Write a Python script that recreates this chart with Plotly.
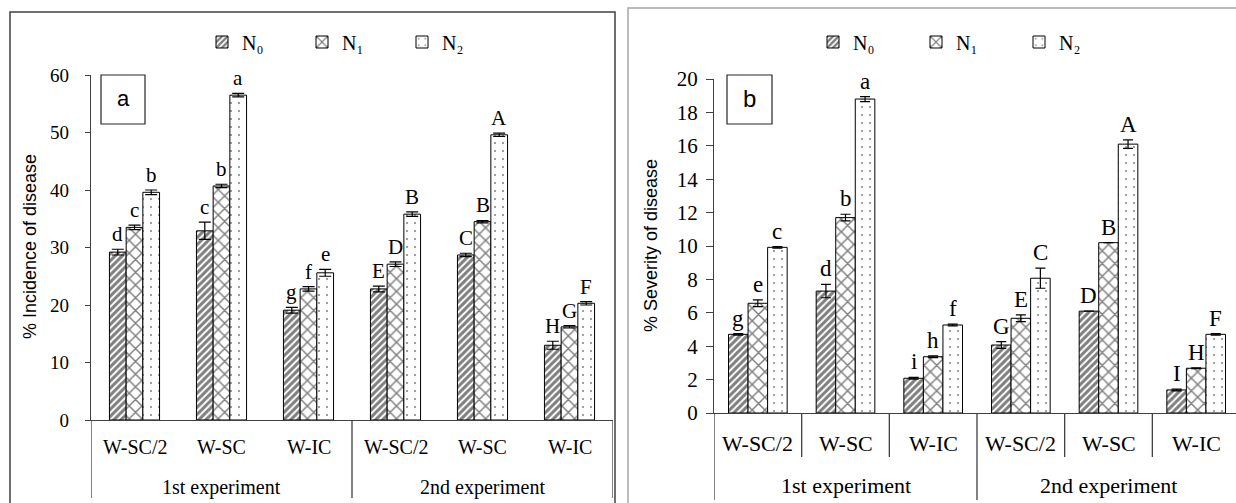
import plotly.graph_objects as go

# ---------------- data ----------------
categories = ["W-SC/2", "W-SC", "W-IC", "W-SC/2", "W-SC", "W-IC"]
experiments = ["1st experiment", "2nd experiment"]
series_names = ["N\u2080", "N\u2081", "N\u2082"]

# panel a : % incidence of disease
inc_N0 = [29.2, 32.9, 19.1, 22.8, 28.7, 13.0]
inc_N1 = [33.5, 40.7, 22.8, 27.1, 34.5, 16.2]
inc_N2 = [39.6, 56.5, 25.6, 35.8, 49.6, 20.3]
inc_err_N0 = [0.5, 1.5, 0.5, 0.5, 0.3, 0.7]
inc_err_N1 = [0.4, 0.3, 0.4, 0.4, 0.2, 0.2]
inc_err_N2 = [0.4, 0.3, 0.6, 0.4, 0.3, 0.3]
inc_let_N0 = ["d", "c", "g", "E", "C", "H"]
inc_let_N1 = ["c", "b", "f", "D", "B", "G"]
inc_let_N2 = ["b", "a", "e", "B", "A", "F"]

# panel b : % severity of disease
sev_N0 = [4.71, 7.3, 2.08, 4.07, 6.1, 1.38]
sev_N1 = [6.57, 11.7, 3.37, 5.67, 10.2, 2.68]
sev_N2 = [9.92, 18.8, 5.27, 8.07, 16.1, 4.71]
sev_err_N0 = [0.05, 0.4, 0.05, 0.2, 0.0, 0.05]
sev_err_N1 = [0.2, 0.2, 0.05, 0.2, 0.0, 0.03]
sev_err_N2 = [0.05, 0.15, 0.05, 0.6, 0.25, 0.05]
sev_let_N0 = ["g", "d", "i", "G", "D", "I"]
sev_let_N1 = ["e", "b", "h", "E", "B", "H"]
sev_let_N2 = ["c", "a", "f", "C", "A", "F"]

# ---------------- styling helpers ----------------
W, H = 1236, 503
def px(x):
    return x / W
def py(y):
    return 1 - y / H

SERIF = "Liberation Serif"
SANS = "Liberation Sans"
AXC = "#404040"

patterns = [
    dict(shape="/", fgcolor="black", bgcolor="white", size=5, solidity=0.6),
    dict(shape="x", fgcolor="black", bgcolor="white", size=9, solidity=0.3),
    dict(shape=".", fgcolor="black", bgcolor="white", size=8, solidity=0.05),
]

xpos = list(range(len(categories)))
fig = go.Figure()
annotations = []
shapes = []

def add_panel(values, errs, letters, xa, ya, legend, bw, font_let, capw):
    n = len(values)
    offs = [-1.5 * bw + k * bw for k in range(n)]
    for k in range(n):
        fig.add_trace(go.Bar(
            x=xpos, y=values[k], width=bw, offset=offs[k],
            name=series_names[k], legend=legend,
            xaxis=xa, yaxis=ya,
            marker=dict(color="white", line=dict(color="black", width=1),
                        pattern=patterns[k]),
            error_y=dict(type="data", array=errs[k], color="black",
                         thickness=1.2, width=capw),
            hoverinfo="skip",
        ))
        for i in xpos:
            annotations.append(dict(
                x=i + offs[k] + bw / 2, y=values[k][i] + errs[k][i],
                xref=xa.replace("axis", ""), yref=ya.replace("axis", ""),
                text=letters[k][i], showarrow=False, yanchor="bottom",
                xanchor="center", yshift=1,
                font=dict(family=SERIF, size=font_let, color="black"),
            ))

add_panel([inc_N0, inc_N1, inc_N2], [inc_err_N0, inc_err_N1, inc_err_N2],
          [inc_let_N0, inc_let_N1, inc_let_N2], "x", "y", "legend",
          0.192, 21, 6)
add_panel([sev_N0, sev_N1, sev_N2], [sev_err_N0, sev_err_N1, sev_err_N2],
          [sev_let_N0, sev_let_N1, sev_let_N2], "x2", "y2", "legend2",
          0.223, 23, 5)

# ---------- category / experiment labels & dividers ----------
def cat_labels(xref, y_cat, y_exp, fs_cat, fs_exp):
    for i, c in enumerate(categories):
        annotations.append(dict(x=i, y=py(y_cat), xref=xref, yref="paper",
                                text=c, showarrow=False, yanchor="middle",
                                xanchor="center",
                                font=dict(family=SERIF, size=fs_cat, color="black")))
    for j, e in enumerate(experiments):
        annotations.append(dict(x=1 + 3 * j, y=py(y_exp), xref=xref, yref="paper",
                                text=e, showarrow=False, yanchor="middle",
                                xanchor="center",
                                font=dict(family=SERIF, size=fs_exp, color="black")))

cat_labels("x", 447, 487, 20, 20)
cat_labels("x2", 443, 485, 22, 22)

for xv in [-0.5, 2.5, 5.5]:
    shapes.append(dict(type="line", xref="x", yref="paper", x0=xv, x1=xv,
                       y0=py(420), y1=py(498), line=dict(color=AXC, width=1.3)))
for xv in [-0.5, 2.5]:
    shapes.append(dict(type="line", xref="x2", yref="paper", x0=xv, x1=xv,
                       y0=py(413), y1=py(500), line=dict(color=AXC, width=1.3)))
for xv in [0.5, 1.5, 3.5, 4.5]:
    shapes.append(dict(type="line", xref="x2", yref="paper", x0=xv, x1=xv,
                       y0=py(413), y1=py(457), line=dict(color=AXC, width=1.3)))

# ---------- panel frames ----------
shapes.append(dict(type="rect", xref="paper", yref="paper",
                   x0=px(10), x1=px(615), y0=py(506), y1=py(12),
                   line=dict(color="#404040", width=1.5)))
shapes.append(dict(type="rect", xref="paper", yref="paper",
                   x0=px(628), x1=px(1242), y0=py(506), y1=py(8),
                   line=dict(color="#a6a6a6", width=1.5)))

# ---------- panel tag boxes ----------
shapes.append(dict(type="rect", xref="paper", yref="paper",
                   x0=px(101), x1=px(145), y0=py(124), y1=py(75),
                   line=dict(color="#262626", width=1.2)))
annotations.append(dict(x=px(123), y=py(99), xref="paper", yref="paper",
                        text="a", showarrow=False, xanchor="center",
                        yanchor="middle",
                        font=dict(family=SANS, size=22, color="black")))
shapes.append(dict(type="rect", xref="paper", yref="paper",
                   x0=px(727), x1=px(772), y0=py(124), y1=py(75),
                   line=dict(color="#262626", width=1.2)))
annotations.append(dict(x=px(749.5), y=py(99), xref="paper", yref="paper",
                        text="b", showarrow=False, xanchor="center",
                        yanchor="middle",
                        font=dict(family=SANS, size=24, color="black")))

# ---------- axis titles ----------
annotations.append(dict(x=px(30), y=py(247), xref="paper", yref="paper",
                        text="% Incidence of disease", textangle=-90,
                        showarrow=False, xanchor="center", yanchor="middle",
                        font=dict(family=SANS, size=18, color="black")))
annotations.append(dict(x=px(651), y=py(246), xref="paper", yref="paper",
                        text="% Severity of disease", textangle=-90,
                        showarrow=False, xanchor="center", yanchor="middle",
                        font=dict(family=SANS, size=18, color="black")))

axis_common = dict(showline=True, linecolor=AXC, linewidth=1.3,
                   showgrid=False, zeroline=False, automargin=False)

fig.update_layout(
    width=W, height=H,
    margin=dict(l=0, r=0, t=0, b=0, pad=0, autoexpand=False),
    paper_bgcolor="white", plot_bgcolor="white",
    barmode="overlay", showlegend=True,
    xaxis=dict(domain=[px(91), px(613)], range=[-0.5, 5.5], anchor="y",
               showticklabels=False, ticks="", **axis_common),
    yaxis=dict(domain=[py(420), py(75)], range=[0, 60], dtick=10,
               anchor="x", ticks="outside", ticklen=5, tickcolor=AXC,
               ticklabelstandoff=12,
               tickfont=dict(family=SERIF, size=19, color="black"),
               **axis_common),
    xaxis2=dict(domain=[px(714), 1], range=[-0.5, 5.5 - 4 / 87.6], anchor="y2",
                showticklabels=False, ticks="", **axis_common),
    yaxis2=dict(domain=[py(413), py(79)], range=[0, 20], dtick=2,
                anchor="x2", ticks="outside", ticklen=7, tickcolor=AXC,
                ticklabelstandoff=4,
                tickfont=dict(family=SERIF, size=21, color="black"),
                **axis_common),
    legend=dict(orientation="h", x=px(202), y=py(42), xanchor="left",
                yanchor="middle", entrywidth=55, entrywidthmode="pixels",
                itemwidth=30, bgcolor="rgba(0,0,0,0)",
                font=dict(family=SERIF, size=20, color="black")),
    legend2=dict(orientation="h", x=px(813), y=py(42), xanchor="left",
                 yanchor="middle", entrywidth=58, entrywidthmode="pixels",
                 itemwidth=30, bgcolor="rgba(0,0,0,0)",
                 font=dict(family=SERIF, size=20, color="black")),
    annotations=annotations,
    shapes=shapes,
)

fig.write_html(
    "out.html",
    config={"displayModeBar": False},
    post_script="document.body.style.margin='0';"
                "document.body.style.overflow='hidden';",
)
